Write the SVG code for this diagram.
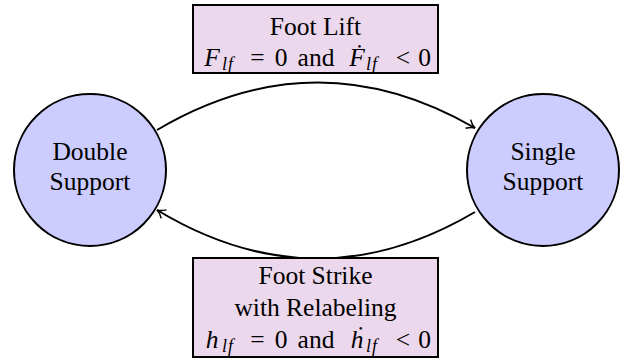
<svg xmlns="http://www.w3.org/2000/svg" width="627" height="362" viewBox="0 0 627 362">
<style>
.state{fill:#CCCCFF;stroke:#000;stroke-width:2}
.box{fill:#ECD8EC;stroke:#000;stroke-width:2}
.t{font-family:"Liberation Serif","DejaVu Serif",serif;font-size:25.5px;fill:#000;text-anchor:middle}
.m{font-style:italic}
.s{font-size:18px;font-style:italic;letter-spacing:1px}
.edge{fill:none;stroke:#000;stroke-width:2}
</style>
<defs>
<marker id="arr" viewBox="0 0 12 12" refX="10" refY="6" markerWidth="12" markerHeight="12" markerUnits="userSpaceOnUse" orient="auto">
<path d="M2,1 Q6,5 10,6 Q6,7 2,11" fill="none" stroke="#000" stroke-width="1.5"/>
</marker>
</defs>
<g id="connectors">
<path class="edge" d="M157,130 Q316,36 475,128" marker-end="url(#arr)"/>
<path class="edge" d="M475,212 Q316,306 157,210" marker-end="url(#arr)"/>
</g>
<g id="double-support">
<circle class="state" cx="90" cy="170" r="76"/>
<text class="t" x="90" y="160">Double</text>
<text class="t" x="90" y="190">Support</text>
</g>
<g id="single-support">
<circle class="state" cx="543" cy="170" r="76"/>
<text class="t" x="543" y="160">Single</text>
<text class="t" x="543" y="190">Support</text>
</g>
<g id="foot-lift">
<rect class="box" x="193" y="5" width="245" height="68"/>
<text class="t" x="315.5" y="35">Foot Lift</text>
<text class="t" y="66"><tspan class="m" x="212">F</tspan><tspan class="s" x="228" y="70">lf</tspan><tspan x="257.5" y="66">=</tspan><tspan x="281">0</tspan><tspan x="316">and</tspan><tspan class="m" x="357">Ḟ</tspan><tspan class="s" x="372" y="70">lf</tspan><tspan x="403" y="66">&lt;</tspan><tspan x="424.5">0</tspan></text>
</g>
<g id="foot-strike">
<rect class="box" x="193" y="258" width="245" height="99"/>
<text class="t" x="315.5" y="284">Foot Strike</text>
<text class="t" x="315.5" y="316">with Relabeling</text>
<text class="t" y="348"><tspan class="m" x="212">h</tspan><tspan class="s" x="228" y="352">lf</tspan><tspan x="257.5" y="348">=</tspan><tspan x="281">0</tspan><tspan x="316">and</tspan><tspan class="m" x="357">ḣ</tspan><tspan class="s" x="372" y="352">lf</tspan><tspan x="403" y="348">&lt;</tspan><tspan x="424.5">0</tspan></text>
</g>
</svg>
